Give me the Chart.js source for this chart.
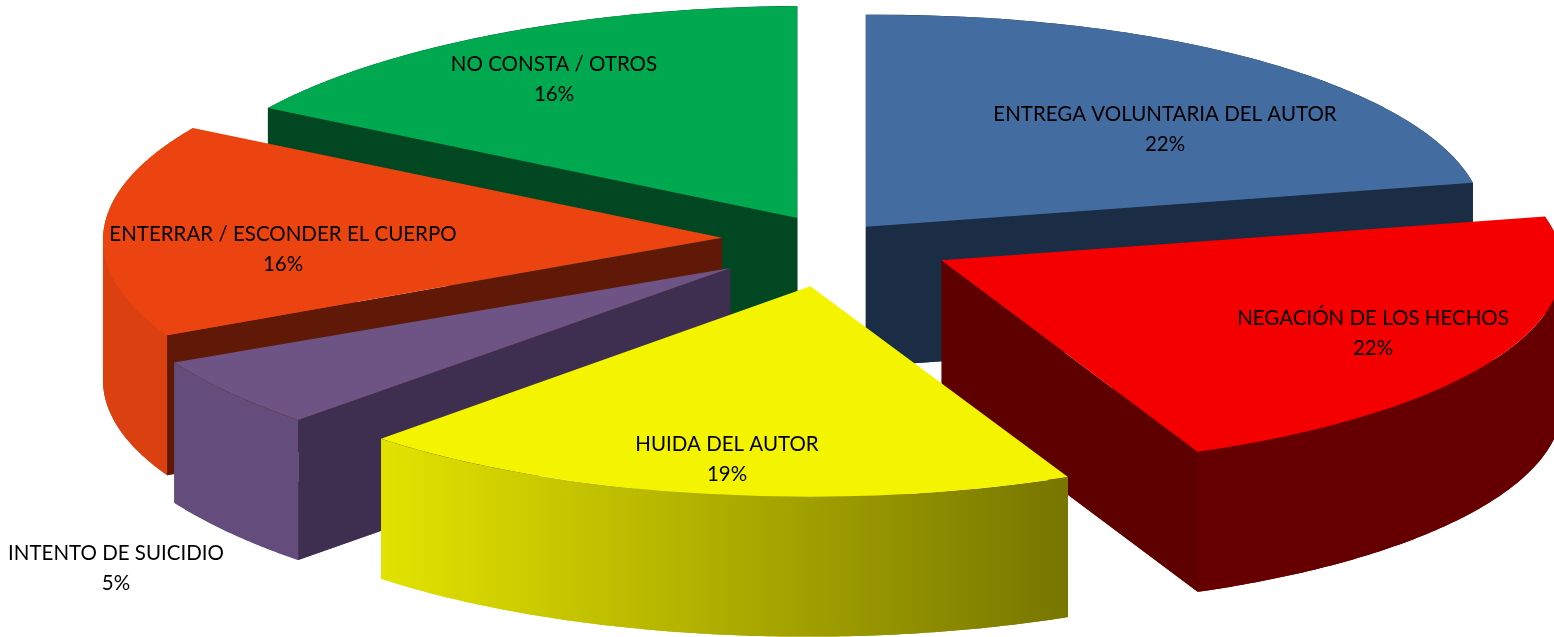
<!DOCTYPE html>
<html lang="es">
<head>
<meta charset="utf-8">
<title>Gráfico</title>
<style>html,body{margin:0;padding:0;background:#fff}canvas{display:block}</style>
<script src="https://cdn.jsdelivr.net/npm/chart.js@4"></script>
</head>
<body>
<canvas id="c" width="1554" height="637"></canvas>
<script>
// ---- data ----
const categories = ["ENTREGA VOLUNTARIA DEL AUTOR","NEGACIÓN DE LOS HECHOS","HUIDA DEL AUTOR","INTENTO DE SUICIDIO","ENTERRAR / ESCONDER EL CUERPO","NO CONSTA / OTROS"];
const values = [22,22,19,5,16,16];
// ---- style ----
const explode    = [53,125,135,128,110,72];
const nudgeX     = [0,-3,1,-1,0,0];
const nudgeY     = [0,0,0,2,-2,-2];
const topColors  = ["#436ca0","#f50000","#f4f400","#6e5484","#ec4410","#00a84f"];
const wallColors = ["#1b2d45","#5f0000","#7a7800","#3e2f50","#611907","#004722"];
const rimColors  = ["#1b2d45","#660000",["#e3e300","#777600"],"#644d7c","#db4010","#004722"];
const radiusX    = [618,620,619,637,619,627];
const radiusY    = [212,208,210,222,215,212];
const tiltY      = [-4.4,-5,-12,0,-6.5,-4.3];
const shearX     = [0,30,32,47,12,0];
const labelAt    = [[1165,114],[1373,318],[727,444],[116,553],[283,234],[554,64]];
const paintOrder = [5,0,4,3,1,2];
const view = {cx:832, cy:241, depth:140};
const labelFont = '20.5px Lato, Carlito, sans-serif', labelLine = 30;

const pie3d = {
  id:'pie3d',
  beforeDatasetsDraw(chart){
    const ctx = chart.ctx, arcs = chart.getDatasetMeta(0).data;
    paintOrder.forEach(i=>{
      const el = arcs[i];
      const circ = el.endAngle-el.startAngle, mid = (el.startAngle+el.endAngle)/2;
      const R = el.outerRadius;
      const a = radiusX[i]/R, b = tiltY[i]/R, c = shearX[i]/R, d = radiusY[i]/R;
      const o = explode[i]/a;
      const ox = Math.cos(mid)*o, oy = Math.sin(mid)*o;
      const map = (x,y)=>[view.cx+nudgeX[i]+a*x+c*y, view.cy+nudgeY[i]+b*x+d*y];
      const apex = map(ox,oy);
      const pt = t=>map(ox+R*Math.cos(t), oy+R*Math.sin(t));
      const D = view.depth;
      const n = 120, pts = [];
      for(let k=0;k<=n;k++) pts.push(pt(el.startAngle+circ*k/n));
      const rc = rimColors[i];
      let rimFill = rc;
      if(Array.isArray(rc)){
        const xs = pts.map(p=>p[0]);
        rimFill = ctx.createLinearGradient(Math.min(...xs),0,Math.max(...xs),0);
        rimFill.addColorStop(0,rc[0]); rimFill.addColorStop(1,rc[1]);
      }
      ctx.fillStyle = rimFill;
      // bottom face, so the solid has no gap where the rim turns round
      ctx.beginPath();
      ctx.moveTo(apex[0],apex[1]+D);
      pts.forEach(p=>ctx.lineTo(p[0],p[1]+D));
      ctx.closePath();
      ctx.fill();
      // outer rim, split where the curve turns so the strip never cancels itself
      const runs = [[pts[0]]];
      for(let k=1;k<pts.length;k++){
        const run = runs[runs.length-1];
        if(run.length>1 && Math.sign(pts[k][0]-pts[k-1][0])!==Math.sign(pts[k-1][0]-pts[k-2][0])) runs.push([pts[k-1]]);
        runs[runs.length-1].push(pts[k]);
      }
      runs.forEach(run=>{
        ctx.beginPath();
        run.forEach((p,k)=> k? ctx.lineTo(p[0],p[1]) : ctx.moveTo(p[0],p[1]));
        for(let k=run.length-1;k>=0;k--) ctx.lineTo(run[k][0],run[k][1]+D);
        ctx.closePath();
        ctx.fill();
      });
      // straight walls, only those facing the viewer
      [el.startAngle,el.endAngle].forEach(t=>{
        const p = pt(t), m = pt(mid);
        const edgeY = apex[1]+(p[1]-apex[1])*(m[0]-apex[0])/((p[0]-apex[0])||1e-6);
        if (m[1] >= edgeY) return;
        ctx.fillStyle = wallColors[i];
        ctx.beginPath();
        ctx.moveTo(apex[0],apex[1]); ctx.lineTo(p[0],p[1]);
        ctx.lineTo(p[0],p[1]+D); ctx.lineTo(apex[0],apex[1]+D);
        ctx.closePath();
        ctx.fill();
      });
      // top face: the library's own arc element under a flattening matrix
      ctx.save();
      ctx.transform(a,b,c,d, apex[0]-a*el.x-c*el.y, apex[1]-b*el.x-d*el.y);
      el.draw(ctx, chart.chartArea);
      ctx.restore();
    });
    return false;
  },
  afterDraw(chart){
    const ctx = chart.ctx;
    ctx.save();
    ctx.font = labelFont; ctx.fillStyle = '#000';
    ctx.textAlign = 'center'; ctx.textBaseline = 'middle';
    categories.forEach((name,i)=>{
      ctx.fillText(name, labelAt[i][0], labelAt[i][1]);
      ctx.fillText(values[i]+'%', labelAt[i][0], labelAt[i][1]+labelLine);
    });
    ctx.restore();
  }
};

new Chart(document.getElementById('c'),{
  type:'pie',
  data:{labels:categories,datasets:[{data:values,backgroundColor:topColors,borderWidth:0}]},
  options:{
    responsive:false,animation:false,
    layout:{padding:0},
    plugins:{legend:{display:false},tooltip:{enabled:false},title:{display:false}}
  },
  plugins:[pie3d]
});
</script>
</body>
</html>
